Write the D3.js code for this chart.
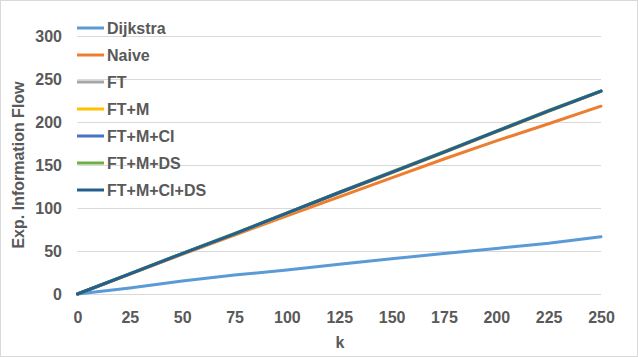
<!DOCTYPE html>
<html><head><meta charset="utf-8">
<script src="https://cdn.jsdelivr.net/npm/d3@7/dist/d3.min.js"></script>
<style>body{margin:0;background:#fff}svg{display:block}text{font-family:"Liberation Sans",Arial,sans-serif;font-weight:bold;fill:#595959}</style>
</head><body><svg id="c" width="638" height="357"></svg>
<script>
const kValues = [0, 25, 50, 75, 100, 125, 150, 175, 200, 225, 250];
const dijkstra = [0, 7, 15, 22, 28, 34.5, 41, 47, 53, 59, 66.6];
const naive    = [0, 23, 46, 68.5, 91, 113, 135, 157, 178, 198, 218.4];
const ft       = [0, 23.3, 46.7, 69.8, 93.6, 117.6, 141, 164.6, 188.6, 212.6, 235.6];
const ftm      = [0, 23.2, 46.6, 69.6, 93.4, 117.4, 140.8, 164.4, 188.4, 212.4, 235.5];
const ftmci    = [0, 23.5, 47, 70, 94, 118, 141.5, 165, 189, 213, 236];
const ftmds    = [0, 23.7, 47.3, 70.4, 94.4, 118.5, 142, 165.5, 189.5, 213.4, 236.3];
const ftmcids  = [0, 23.5, 47, 70, 94, 118, 141.5, 165, 189, 213, 236];
const seriesNames = ["Dijkstra", "Naive", "FT", "FT+M", "FT+M+CI", "FT+M+DS", "FT+M+CI+DS"];
const seriesColors = ["#5B9BD5", "#ED7D31", "#A5A5A5", "#FFC000", "#4472C4", "#70AD47", "#255E91"];
const seriesValues = [dijkstra, naive, ft, ftm, ftmci, ftmds, ftmcids];
const xTicks = [0, 25, 50, 75, 100, 125, 150, 175, 200, 225, 250];
const yTicks = [0, 50, 100, 150, 200, 250, 300];

const svg = d3.select("#c");
svg.append("rect").attr("x",0.5).attr("y",0.5).attr("width",637).attr("height",356)
  .attr("fill","#fff").attr("stroke","#d9d9d9");

const x = d3.scaleLinear().domain([0,250]).range([77.5,601]);
const y = d3.scaleLinear().domain([0,300]).range([294,36]);

// gridlines
svg.append("g").selectAll("line").data(yTicks).join("line")
  .attr("x1",x(0)).attr("x2",x(250))
  .attr("y1",d=>Math.round(y(d))+0.5).attr("y2",d=>Math.round(y(d))+0.5)
  .attr("stroke","#d9d9d9").attr("stroke-width",1);

// y axis labels
const yAxis = d3.axisLeft(y).tickValues(yTicks).tickSize(0).tickPadding(0);
const gy = svg.append("g").attr("transform","translate(62,0)").call(yAxis);
gy.select(".domain").remove();
gy.selectAll("text").attr("font-size",16).attr("fill","#595959").style("font-family",'"Liberation Sans",Arial,sans-serif').style("font-weight","bold").attr("dy","0.35em");

// x axis labels
const xAxis = d3.axisBottom(x).tickValues(xTicks).tickSize(0).tickPadding(0);
const gx = svg.append("g").attr("transform","translate(0,312)").call(xAxis);
gx.select(".domain").remove();
gx.selectAll("text").attr("font-size",16).attr("fill","#595959").style("font-family",'"Liberation Sans",Arial,sans-serif').style("font-weight","bold").attr("dy","0.71em");

// axis titles
svg.append("text").attr("x",340).attr("y",348).attr("text-anchor","middle").attr("font-size",16).text("k");
svg.append("text").attr("transform","translate(24,165) rotate(-90)").attr("text-anchor","middle").attr("font-size",16).text("Exp. Information Flow");

// lines
const line = d3.line().x((d,i)=>x(kValues[i])).y(d=>y(d));
svg.append("g").selectAll("path").data(seriesValues).join("path")
  .attr("d",d=>line(d)).attr("fill","none")
  .attr("stroke",(d,i)=>seriesColors[i]).attr("stroke-width",3)
  .attr("stroke-linejoin","round").attr("stroke-linecap","round");

// legend
const lg = svg.append("g").selectAll("g").data(seriesNames).join("g")
  .attr("transform",(d,i)=>`translate(77,${28+i*27})`);
lg.append("line").attr("x1",0).attr("x2",27).attr("y1",0).attr("y2",0)
  .attr("stroke",(d,i)=>seriesColors[i]).attr("stroke-width",3);
lg.append("text").attr("x",30).attr("y",0).attr("dy","0.35em").attr("font-size",16).text(d=>d);
</script></body></html>
